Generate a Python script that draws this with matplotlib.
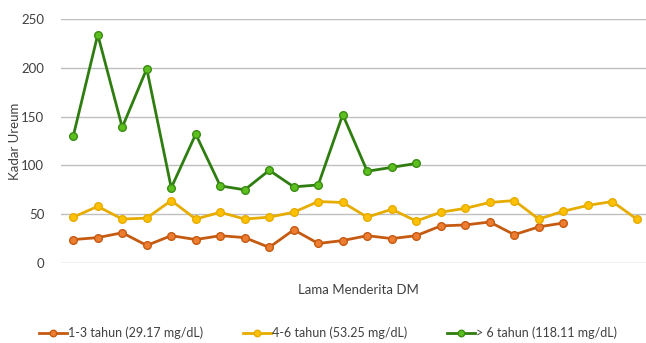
import matplotlib
matplotlib.use("Agg")
import matplotlib.pyplot as plt
import numpy as np

plt.rcParams['font.family'] = ['Lato', 'DejaVu Sans']

series_labels = ["1-3 tahun (29.17 mg/dL)", "4-6 tahun (53.25 mg/dL)", "> 6 tahun (118.11 mg/dL)"]
orange_vals = [24, 26, 31, 18, 28, 24, 28, 26, 16, 34, 20, 23, 28, 25, 28, 38, 39, 42, 29, 37, 41]
yellow_vals = [47, 58, 45, 46, 64, 45, 52, 45, 47, 52, 63, 62, 47, 55, 43, 52, 56, 62, 64, 45, 53, 59, 63, 45]
green_vals = [130, 234, 139, 199, 77, 132, 79, 75, 95, 78, 80, 152, 94, 98, 102]
y_ticks = [0, 50, 100, 150, 200, 250]

fig = plt.figure(figsize=(6.46, 3.43), dpi=100)
ax = fig.add_axes([61/646, 1-263/343, 588/646, 244/343])

styles = [
    dict(color="#c55a11", mfc="#ed7d31", mec="#c55a11"),
    dict(color="#e6ac00", mfc="#ffc000", mec="#e6ac00"),
    dict(color="#2f7d10", mfc="#5cbf1f", mec="#3a8c12"),
]
handles = []
for vals, st, lab in zip([orange_vals, yellow_vals, green_vals], styles, series_labels):
    h, = ax.plot(np.arange(len(vals)), vals, '-', marker='o', lw=2.0, ms=5.5,
                 color=st['color'], mfc=st['mfc'], mec=st['mec'], mew=1.0, label=lab)
    handles.append(h)

ax.set_xlim(-0.5, 23.5)
ax.set_ylim(0, 250)
ax.set_yticks(y_ticks)
ax.set_xticks([])
ax.tick_params(axis='y', length=0, labelsize=9.5, colors="#404040", pad=12)
for s in ax.spines.values():
    s.set_visible(False)
ax.grid(axis='y', color="#bfbfbf", lw=1.0)
ax.set_axisbelow(True)
fig.text(15/646, 1-141/343, "Kadar Ureum", rotation=90, ha='center', va='center', fontsize=9.5, color="#404040")
fig.text(358/646, 1-290/343, "Lama Menderita DM", ha='center', va='center', fontsize=9.5, color="#404040")
fig.legend(handles=handles, loc='center', bbox_to_anchor=(328/646, 1-333/343), ncol=3,
           frameon=False, fontsize=9, handlelength=2.2, handletextpad=0.1, columnspacing=3.2,
           labelcolor="#404040", markerscale=0.85)

fig.savefig("out.png", dpi=100)
